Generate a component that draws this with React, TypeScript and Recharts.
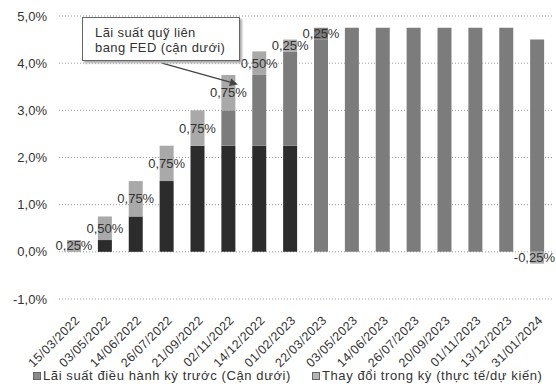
import React from "react";
import {
  Bar,
  BarChart,
  CartesianGrid,
  Cell,
  LabelList,
  ReferenceLine,
  XAxis,
  YAxis,
} from "recharts";

// FOMC meeting dates
const dates = [
  "15/03/2022",
  "03/05/2022",
  "14/06/2022",
  "26/07/2022",
  "21/09/2022",
  "02/11/2022",
  "14/12/2022",
  "01/02/2023",
  "22/03/2023",
  "03/05/2023",
  "14/06/2023",
  "26/07/2023",
  "20/09/2023",
  "01/11/2023",
  "13/12/2023",
  "31/01/2024",
];

// previous-period lower bound, dark part and grey part of the same bar
const prevDark = [0, 0.25, 0.75, 1.5, 2.25, 2.25, 2.25, 2.25, 0, 0, 0, 0, 0, 0, 0, 0];
const prevGrey = [0, 0, 0, 0, 0, 0.75, 1.5, 2.0, 4.5, 4.75, 4.75, 4.75, 4.75, 4.75, 4.75, 4.5];
// change decided / expected at each meeting
const change = [0.25, 0.5, 0.75, 0.75, 0.75, 0.75, 0.5, 0.25, 0.25, 0, 0, 0, 0, 0, 0, -0.25];

const yTicks = [-1, 0, 1, 2, 3, 4, 5];

const data = dates.map((d, i) => ({
  date: d,
  prevDark: prevDark[i],
  prevGrey: prevGrey[i],
  change: change[i],
}));

const W = 556;
const H = 387;
const FONT = "'Liberation Sans', Arial, sans-serif";
const DARK = "#2c2c2c";
const GREY = "#7c7c7c";
const LIGHT = "#a9a9a9";

const pct = (v: number, digits: number) => `${v.toFixed(digits).replace(".", ",")}%`;

function DateTick({ x, y, payload }: any) {
  return (
    <g transform={`translate(${x + 6},${y + 14})`}>
      <text
        x={0}
        y={0}
        textAnchor="end"
        transform="rotate(-45)"
        fontSize={12.5}
        letterSpacing={0.4}
        fontFamily={FONT}
        fill="#333"
      >
        {payload.value}
      </text>
    </g>
  );
}

// value label in the middle of the change segment; kept inside the right edge
function ChangeLabel(props: any) {
  const { x, y, width, height, value } = props;
  const v = Number(value);
  if (!v) return null;
  const text = pct(v, 2);
  const cx = x + width / 2;
  const cy = y + height / 2;
  const nearEdge = cx + 22 > W;
  return (
    <text
      x={nearEdge ? W - 1 : cx}
      y={cy}
      dy="0.35em"
      textAnchor={nearEdge ? "end" : "middle"}
      fontSize={13}
      fontFamily={FONT}
      fill="#333"
    >
      {text}
    </text>
  );
}

function Arrow(props: any) {
  const { x1, y1, x2, y2 } = props;
  const sx = x1 - 5;
  const ex = x2 + 9;
  const ang = Math.atan2(y2 - y1, ex - sx);
  const len = 8;
  const w = 4;
  const bx = ex - len * Math.cos(ang);
  const by = y2 - len * Math.sin(ang);
  const px = -Math.sin(ang) * w;
  const py = Math.cos(ang) * w;
  return (
    <g>
      <line x1={sx} y1={y1} x2={bx} y2={by} stroke="#444" strokeWidth={1.3} />
      <polygon
        points={`${ex},${y2} ${bx + px},${by + py} ${bx - px},${by - py}`}
        fill="#444"
      />
    </g>
  );
}

function LegendItem({ left, color, label }: { left: number; color: string; label: string }) {
  return (
    <div
      style={{
        position: "absolute",
        left,
        top: 368,
        display: "flex",
        alignItems: "center",
        fontFamily: FONT,
        fontSize: 13,
        letterSpacing: 0.6,
        color: "#333",
        whiteSpace: "nowrap",
      }}
    >
      <span
        style={{
          display: "inline-block",
          width: 6,
          height: 6,
          background: color,
          border: "1px solid #666",
          marginRight: 2,
        }}
      />
      {label}
    </div>
  );
}

export default function App() {
  return (
    <div
      style={{
        position: "absolute",
        left: 0,
        top: 0,
        width: W,
        height: H,
        background: "#fff",
        overflow: "hidden",
      }}
    >
      <BarChart
        width={W}
        height={H}
        data={data}
        stackOffset="sign"
        margin={{ top: 16, right: 3, bottom: 0, left: 0 }}
      >
        <CartesianGrid vertical={false} stroke="#9a9a9a" strokeDasharray="1 2" />
        <XAxis
          dataKey="date"
          interval={0}
          height={88}
          axisLine={false}
          tickLine={false}
          tick={<DateTick />}
        />
        <YAxis
          domain={[-1, 5]}
          ticks={yTicks}
          width={59}
          axisLine={false}
          tickLine={false}
          tickSize={0}
          tickMargin={12}
          tickFormatter={(v) => pct(Number(v), 1)}
          tick={{ fontSize: 13, fill: "#333", fontFamily: FONT }}
        />
        <Bar dataKey="prevDark" stackId="a" fill={DARK} barSize={14} isAnimationActive={false} />
        <Bar dataKey="prevGrey" stackId="a" fill={GREY} barSize={14} isAnimationActive={false} />
        <Bar dataKey="change" stackId="a" fill={LIGHT} barSize={14} isAnimationActive={false}>
          {data.map((d, i) => (
            <Cell key={d.date} fill={i >= 8 && d.change > 0 ? GREY : LIGHT} />
          ))}
          <LabelList dataKey="change" content={<ChangeLabel />} />
        </Bar>
        <ReferenceLine
          segment={[
            { x: "26/07/2022", y: 4.0 },
            { x: "02/11/2022", y: 3.55 },
          ]}
          shape={<Arrow />}
        />
      </BarChart>

      <div
        style={{
          position: "absolute",
          left: 82,
          top: 17,
          width: 158,
          height: 44,
          border: "1px solid #666",
          background: "#fff",
          boxShadow: "2px 2px 2px #aaa",
          fontFamily: FONT,
          fontSize: 13,
          letterSpacing: 0.4,
          lineHeight: "15px",
          color: "#333",
          padding: "7px 0 0 12px",
          boxSizing: "border-box",
        }}
      >
        Lãi suất quỹ liên
        <br />
        bang FED (cận dưới)
      </div>

      <LegendItem left={33} color="#8a8a8a" label="Lãi suất điều hành kỳ trước (Cận dưới)" />
      <LegendItem left={312} color="#b5b5b5" label="Thay đổi trong kỳ (thực tế/dự kiến)" />
    </div>
  );
}
